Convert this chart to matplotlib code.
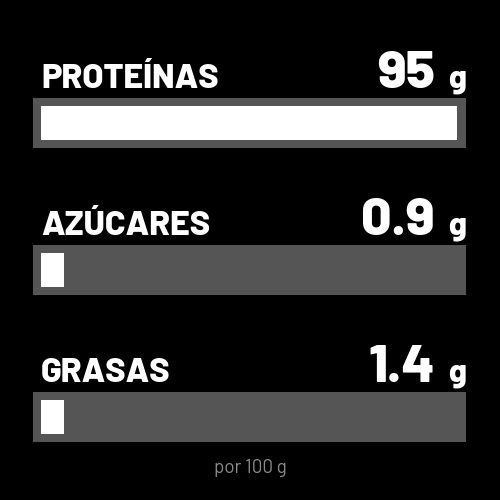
import matplotlib
matplotlib.use("Agg")
import matplotlib.pyplot as plt
from matplotlib import font_manager
from matplotlib.transforms import offset_copy

# data
nutrients = ["PROTEÍNAS", "AZÚCARES", "GRASAS"]
values = [95, 0.9, 1.4]
value_labels = ["95", "0.9", "1.4"]
unit = "g"
footnote = "por 100 g"

track_color = "#555555"
fill_color = "#ffffff"
min_fill = 5.25  # small values still get a visible stub

names = {f.name for f in font_manager.fontManager.ttflist}
font = "Barlow" if "Barlow" in names else "DejaVu Sans"
fam = [font, "DejaVu Sans"]

fig = plt.figure(figsize=(5, 5), dpi=100, facecolor="black")
ax = fig.add_axes([33 / 500, (500 - 490.5) / 500, 433 / 500, 441 / 500])
ax.set_facecolor("black")

vmax = max(values)
lo, hi = -vmax * 8 / 416, vmax + vmax * 9 / 416
ax.set_xlim(lo, hi)
ax.set_ylim(len(values) - 0.5, -0.5)
ax.axis("off")

ys = list(range(len(values)))
ax.barh(ys, [hi - lo] * len(values), left=lo, height=0.34, color=track_color)
ax.barh(ys, [max(v, min_fill) for v in values], left=0, height=0.23, color=fill_color)

num_trans = offset_copy(ax.transData, fig=fig, x=-31, y=0, units="dots")
for i, (name, lab) in enumerate(zip(nutrients, value_labels)):
    yb = i - 0.24
    ax.text(0, yb, name, color="white", fontsize=24.5, fontweight=800,
            family=fam, va="baseline", ha="left")
    ax.text(hi, yb, unit, color="white", fontsize=23, fontweight=800,
            family=fam, va="baseline", ha="right")
    ax.text(hi, yb, lab, color="white", fontsize=38.5, fontweight=800,
            family=fam, va="baseline", ha="right", transform=num_trans)

fig.text(0.5, 1 - 473 / 500, footnote, color="#8c8c8c", fontsize=13.5,
         family=fam, ha="center", va="baseline")

fig.savefig("out.png", dpi=100, facecolor="black")
